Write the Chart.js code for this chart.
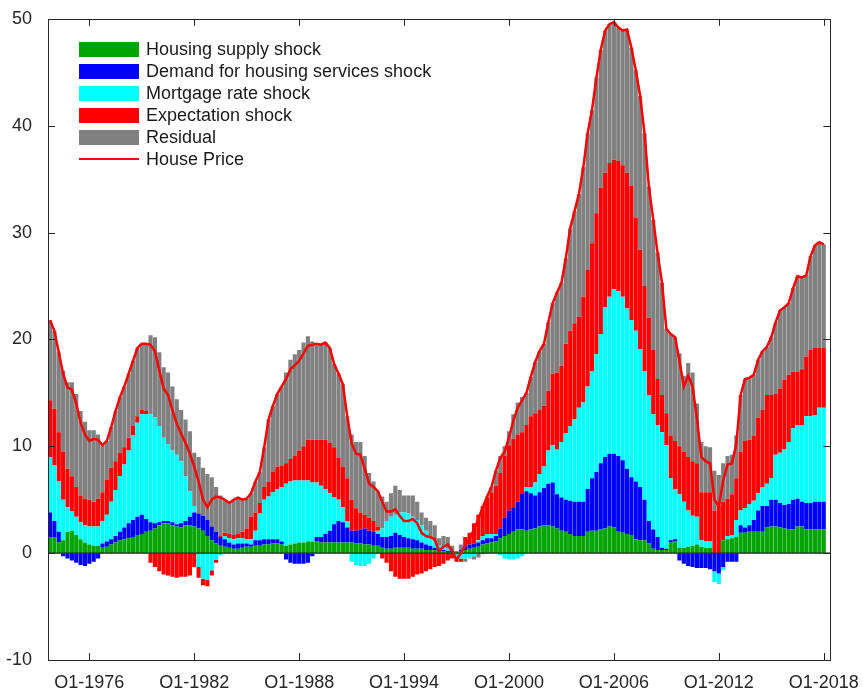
<!DOCTYPE html>
<html lang="en">
<head>
<meta charset="UTF-8">
<title>House price historical decomposition</title>
<script src="https://cdn.jsdelivr.net/npm/chart.js"></script>
<style>
  body { margin: 0; background: #fff; font-family: "Liberation Sans", Arial, Helvetica, sans-serif; }
  #wrap { position: relative; width: 863px; height: 688px; }
  #legend { position: absolute; left: 79px; top: 38px; }
  .row { height: 22px; line-height: 22px; font-size: 18px; color: #1a1a1a; white-space: nowrap; }
  .sw { display: inline-block; width: 60px; height: 15px; vertical-align: middle; margin-right: 7px; position: relative; top: -1px; }
  .ln { display: inline-block; width: 60px; height: 2px; vertical-align: middle; margin-right: 7px; position: relative; top: -1px; }
</style>
</head>
<body>
<div id="wrap">
  <canvas id="hpChart" width="863" height="688"></canvas>
  <div id="legend"></div>
</div>
<script>
// quarterly data, Q4-1973 .. Q1-2018
const firstYear = 1973;
const firstQuarter = 4;

const housePrice = [
  21.8, 20.8, 18.8, 16.8, 15.5, 15.3, 14.0, 12.2, 11.1, 10.5,
  10.7, 10.6, 10.1, 10.5, 11.8, 13.3, 14.6, 15.6, 16.8, 18.0,
  19.2, 19.6, 19.6, 19.5, 18.9, 17.1, 15.4, 14.8, 13.4, 12.1,
  11.2, 10.3, 9.3, 8.1, 6.7, 5.0, 4.3, 5.0, 5.3, 5.2,
  5.0, 4.7, 5.0, 5.2, 5.0, 5.1, 5.6, 6.7, 7.6, 9.9,
  12.5, 13.8, 14.9, 15.6, 16.3, 17.2, 17.6, 18.0, 18.7, 19.4,
  19.5, 19.6, 19.5, 19.7, 19.2, 17.7, 16.8, 15.8, 12.8, 10.3,
  9.3, 9.2, 7.9, 6.5, 6.2, 5.8, 4.8, 3.9, 3.9, 4.1,
  3.5, 3.0, 3.0, 3.2, 2.8, 1.9, 1.6, 1.5, 1.3, 0.2,
  0.6, 0.8, 0.2, -0.6, 0.0, 0.7, 1.4, 2.2, 3.2, 4.3,
  5.3, 6.2, 7.7, 8.9, 9.5, 10.8, 12.4, 13.6, 14.3, 15.0,
  16.5, 17.9, 18.9, 19.6, 21.6, 23.4, 24.4, 25.3, 27.6, 30.4,
  32.0, 33.6, 36.1, 39.3, 41.5, 44.5, 47.1, 48.9, 49.5, 49.7,
  49.2, 48.9, 49.0, 47.3, 45.2, 42.8, 39.3, 34.3, 31.2, 28.1,
  25.3, 21.0, 20.5, 20.2, 18.0, 15.6, 16.6, 15.6, 12.6, 9.0,
  8.6, 8.4, 5.0, 4.4, 6.8, 8.3, 8.4, 10.2, 14.8, 16.3,
  16.4, 16.7, 18.1, 18.9, 19.3, 20.2, 21.6, 22.7, 23.0, 23.4,
  24.8, 25.9, 25.8, 26.0, 27.8, 28.8, 29.1, 28.9
];

const supplyShock = [
  1.5, 1.5, 1.0, 1.2, 2.0, 2.1, 1.7, 1.3, 1.0, 0.8,
  0.7, 0.7, 0.5, 0.6, 0.8, 1.0, 1.2, 1.3, 1.4, 1.5,
  1.7, 1.8, 2.0, 2.1, 2.3, 2.6, 2.8, 2.8, 2.6, 2.5,
  2.4, 2.6, 2.6, 2.5, 2.3, 2.1, 1.6, 1.2, 0.9, 0.7,
  0.6, 0.5, 0.4, 0.4, 0.5, 0.6, 0.6, 0.7, 0.7, 0.8,
  0.8, 0.9, 0.9, 0.8, 0.7, 0.8, 0.9, 1.0, 1.0, 1.1,
  1.1, 1.1, 1.0, 1.0, 1.0, 1.0, 1.0, 1.0, 1.0, 1.0,
  0.9, 0.9, 0.8, 0.8, 0.7, 0.7, 0.5, 0.4, 0.4, 0.5,
  0.5, 0.5, 0.5, 0.4, 0.4, 0.4, 0.3, 0.3, 0.3, 0.2,
  0.2, 0.1, 0.1, 0.1, 0.2, 0.3, 0.4, 0.5, 0.6, 0.8,
  0.9, 1.0, 1.1, 1.4, 1.6, 1.8, 2.0, 2.2, 2.2, 2.1,
  2.2, 2.3, 2.5, 2.6, 2.6, 2.5, 2.3, 2.1, 2.0, 1.8,
  1.6, 1.6, 1.6, 2.0, 2.1, 2.1, 2.2, 2.3, 2.5, 2.4,
  2.0, 1.9, 1.8, 1.7, 1.3, 1.2, 1.2, 0.9, 0.4, 0.3,
  0.3, 0.3, 1.0, 1.1, 0.5, 0.5, 0.6, 0.7, 0.8, 0.6,
  0.5, 0.5, 0.0, 0.0, 1.2, 1.3, 1.4, 1.5, 1.9, 1.9,
  2.0, 2.0, 2.0, 2.0, 2.4, 2.5, 2.5, 2.4, 2.3, 2.2,
  2.2, 2.5, 2.5, 2.2, 2.2, 2.2, 2.2, 2.2
];

const demandShock = [
  2.3, 1.5, 1.0, -0.3, -0.5, -0.7, -0.9, -1.1, -1.2, -1.0,
  -0.8, -0.5, 0.4, 0.5, 0.5, 0.6, 0.8, 1.1, 1.4, 1.6,
  1.7, 1.8, 1.2, 0.8, 0.5, 0.3, 0.2, 0.2, 0.3, 0.2,
  0.4, 0.4, 0.8, 1.3, 1.4, 1.4, 1.5, 1.3, 1.1, 0.8,
  0.7, 0.5, 0.4, 0.5, 0.4, 0.3, 0.2, 0.5, 0.5, 0.5,
  0.5, 0.4, 0.4, 0.3, -0.6, -0.9, -1.0, -1.0, -1.0, -0.9,
  -0.3, 0.4, 0.5, 0.8, 1.1, 1.7, 2.0, 1.9, 1.4, 1.1,
  1.2, 1.3, 1.5, 1.3, 1.3, 1.1, 1.0, 1.1, 1.2, 1.4,
  1.2, 1.0, 0.9, 0.9, 0.8, 0.6, 0.5, 0.4, 0.2, 0.2,
  0.1, 0.1, 0.1, 0.0, 0.1, 0.4, 0.4, 0.4, 0.4, 0.4,
  0.5, 0.4, 0.5, 0.9, 1.7, 2.2, 2.3, 2.6, 3.4, 3.7,
  3.4, 3.1, 3.2, 3.5, 3.9, 4.1, 3.2, 3.1, 3.0, 3.1,
  3.2, 3.2, 3.2, 4.0, 4.9, 5.5, 6.2, 6.7, 6.8, 6.9,
  7.1, 6.8, 6.1, 5.4, 5.4, 5.0, 3.8, 2.1, 1.8, 1.2,
  0.2, 0.1, 0.2, 0.2, -0.7, -1.0, -1.2, -1.3, -1.4, -1.4,
  -1.4, -1.5, -1.7, -1.9, -1.3, -0.8, -0.8, -0.8, 0.7, 0.5,
  0.6, 1.1, 2.0, 2.4, 2.0, 2.5, 2.5, 2.3, 2.2, 2.4,
  2.8, 2.6, 2.3, 2.5, 2.5, 2.6, 2.6, 2.6
];

const mortgageShock = [
  5.2, 5.2, 4.7, 3.8, 2.3, 1.8, 1.7, 1.6, 1.6, 1.7,
  1.8, 1.8, 2.1, 2.5, 3.5, 4.3, 5.2, 5.9, 6.8, 7.9,
  8.8, 9.4, 9.8, 10.1, 9.9, 9.0, 7.8, 7.2, 6.7, 6.5,
  5.8, 4.2, 2.4, 0.6, -1.3, -2.4, -2.5, -1.6, -0.6, -0.2,
  0.3, 0.4, 0.5, 0.5, 0.5, 0.4, 0.5, 0.9, 2.5, 3.7,
  4.0, 4.4, 4.7, 5.1, 5.8, 5.9, 5.9, 5.8, 5.8, 5.7,
  5.5, 5.1, 4.8, 4.2, 3.5, 2.5, 2.0, 1.4, 0.6, -0.8,
  -1.1, -1.2, -1.2, -1.0, -0.5, 0.3, 0.8, 1.5, 1.8, 1.7,
  2.1, 2.3, 2.3, 2.1, 1.9, 1.6, 1.3, 0.8, 0.6, 0.3,
  0.2, 0.2, 0.0, -0.4, -0.5, -0.5, -0.4, -0.3, 0.2, 0.4,
  0.4, 0.4, 0.2, -0.2, -0.5, -0.6, -0.6, -0.5, -0.3, 0.4,
  0.6, 1.2, 1.7, 2.0, 3.1, 3.5, 4.2, 5.2, 6.2, 7.0,
  7.7, 8.8, 9.3, 9.6, 10.0, 11.0, 12.1, 14.0, 14.7, 15.4,
  15.4, 15.3, 15.0, 14.7, 14.1, 12.9, 12.0, 11.8, 10.8, 10.5,
  10.8, 9.7, 5.8, 4.7, 5.0, 4.3, 3.4, 2.8, 2.6, 0.6,
  0.6, 0.6, -1.0, -1.0, -0.3, 0.3, 0.3, 1.6, 1.4, 1.8,
  2.0, 1.8, 1.6, 1.8, 2.1, 2.0, 4.2, 4.7, 5.2, 5.8,
  6.7, 6.9, 7.2, 8.1, 8.1, 8.1, 8.8, 8.8
];

const expectationShock = [
  5.3, 5.3, 4.6, 4.5, 3.6, 3.3, 2.8, 2.5, 2.5, 2.5,
  2.3, 2.6, 2.7, 3.3, 3.2, 2.7, 2.2, 1.6, 1.2, 0.9,
  0.6, 0.4, 0.3, -0.9, -1.3, -1.7, -2.0, -2.1, -2.2, -2.3,
  -2.2, -2.2, -2.1, -1.3, -1.0, -0.6, -0.6, -0.5, -0.3, 0.1,
  0.3, 0.4, 0.4, 0.4, 0.6, 1.0, 2.1, 1.7, 1.0, 1.2,
  1.4, 1.9, 2.1, 2.0, 1.9, 2.1, 2.3, 2.8, 3.2, 3.8,
  4.0, 4.0, 4.3, 4.6, 4.7, 4.7, 3.9, 3.8, 4.0, 2.9,
  2.1, 1.6, 1.3, 1.2, 1.0, 0.4, -0.5, -0.9, -1.7, -2.2,
  -2.4, -2.4, -2.4, -2.2, -2.0, -1.9, -1.7, -1.5, -1.3, -1.2,
  -1.0, -0.7, -0.5, -0.4, -0.3, 0.8, 1.1, 1.9, 2.4, 2.8,
  3.4, 3.9, 4.5, 5.2, 5.8, 6.1, 6.4, 6.3, 5.7, 5.8,
  6.6, 6.5, 6.0, 5.7, 5.6, 6.7, 7.2, 7.1, 8.4, 8.9,
  9.0, 8.5, 9.9, 10.9, 12.0, 13.2, 13.7, 12.6, 12.5, 12.1,
  12.2, 12.3, 12.7, 12.6, 10.6, 9.3, 8.0, 7.2, 6.0, 4.3,
  3.5, 3.0, 4.0, 4.5, 4.5, 4.7, 5.0, 5.1, 5.0, 4.5,
  4.6, 4.6, 4.0, 4.4, 3.6, 3.5, 3.8, 3.9, 5.5, 6.3,
  6.0, 6.1, 7.1, 7.2, 8.3, 7.8, 5.7, 6.0, 6.5, 6.3,
  5.3, 5.0, 5.2, 5.6, 6.2, 6.3, 5.6, 5.6
];

const residual = [
  7.5, 7.3, 7.5, 7.6, 8.1, 8.8, 8.7, 7.9, 7.2, 6.5,
  6.7, 6.0, 4.4, 3.6, 3.8, 4.7, 5.2, 5.7, 6.0, 6.1,
  6.4, 6.2, 6.3, 7.4, 7.5, 6.9, 6.6, 6.7, 6.0, 5.2,
  4.8, 5.3, 5.6, 5.0, 5.3, 4.5, 4.3, 4.6, 4.2, 3.8,
  3.1, 2.9, 3.3, 3.4, 3.0, 2.8, 2.2, 2.9, 2.9, 3.7,
  5.8, 6.2, 6.8, 7.4, 8.5, 9.3, 9.5, 9.4, 9.7, 9.7,
  9.2, 9.0, 8.9, 9.1, 8.9, 7.8, 7.9, 7.7, 5.8, 6.1,
  6.2, 6.6, 5.5, 4.2, 3.7, 3.3, 3.0, 1.8, 2.2, 2.7,
  2.1, 1.6, 1.7, 2.0, 1.7, 1.2, 1.2, 1.5, 1.5, 0.7,
  1.1, 1.1, 0.5, 0.1, 0.5, -0.3, -0.1, -0.3, -0.4, -0.1,
  0.1, 0.5, 1.4, 1.6, 0.9, 1.3, 2.3, 3.0, 3.3, 3.0,
  3.7, 4.8, 5.5, 5.8, 6.4, 6.6, 7.5, 7.8, 8.0, 9.6,
  10.5, 11.5, 12.1, 12.8, 12.5, 12.7, 12.9, 13.3, 13.0, 12.9,
  12.5, 12.6, 13.4, 12.9, 13.8, 14.4, 14.3, 12.3, 12.2, 11.8,
  10.5, 7.9, 9.5, 9.7, 8.7, 7.1, 8.8, 8.3, 5.6, 4.7,
  4.3, 4.2, 3.7, 2.9, 3.6, 4.0, 3.7, 4.0, 5.3, 5.8,
  5.8, 5.7, 5.4, 5.5, 4.5, 5.4, 6.7, 7.3, 6.8, 6.7,
  7.8, 8.9, 8.6, 7.6, 8.8, 9.6, 9.9, 9.7
];

const tickYears = [1976, 1982, 1988, 1994, 2000, 2006, 2012, 2018];

const seriesNames = ['Housing supply shock', 'Demand for housing services shock',
  'Mortgage rate shock', 'Expectation shock', 'Residual', 'House Price'];
const seriesColors = ['#00a500', '#0000ff', '#00ffff', '#ff0000', '#808080', '#ff0000'];
const seriesData = [supplyShock, demandShock, mortgageShock, expectationShock, residual];

// time position of each quarter (years)
const t0 = firstYear + (firstQuarter - 1) / 4;
const toPoints = arr => arr.map((v, i) => ({ x: t0 + i / 4, y: v }));

Chart.defaults.font.family = '"Liberation Sans", Arial, Helvetica, sans-serif';
Chart.defaults.font.size = 18;
Chart.defaults.color = '#262626';

const datasets = seriesData.map((arr, k) => ({
  type: 'bar',
  label: seriesNames[k],
  data: toPoints(arr),
  backgroundColor: seriesColors[k],
  borderWidth: 0,
  inflateAmount: 0,
  stack: 'shocks',
  order: 1,
  barPercentage: 0.95,
  categoryPercentage: 1
}));
datasets.push({
  type: 'line',
  label: seriesNames[5],
  data: toPoints(housePrice),
  borderColor: seriesColors[5],
  borderWidth: 2.5,
  pointRadius: 0,
  tension: 0,
  fill: false,
  stack: 'price',
  order: 0
});

// axes box, inward ticks, zero line
const frame = {
  id: 'frame',
  afterDatasetDraw(chart, args) {
    if (args.index !== 0) return;
    const { ctx, chartArea: a, scales: { y } } = chart;
    const y0 = y.getPixelForValue(0);
    ctx.save();
    ctx.strokeStyle = '#262626';
    ctx.lineWidth = 1.3;
    ctx.beginPath();
    ctx.moveTo(a.left, y0);
    ctx.lineTo(a.right, y0);
    ctx.stroke();
    ctx.restore();
  },
  afterDraw(chart) {
    const { ctx, chartArea: a, scales: { x, y } } = chart;
    ctx.save();
    ctx.strokeStyle = '#262626';
    ctx.lineWidth = 1;
    ctx.strokeRect(Math.round(a.left) + 0.5, Math.round(a.top) + 0.5,
      Math.round(a.right - a.left), Math.round(a.bottom - a.top));
    ctx.beginPath();
    y.ticks.forEach(t => {
      const p = Math.round(y.getPixelForValue(t.value)) + 0.5;
      ctx.moveTo(a.left, p); ctx.lineTo(a.left + 7, p);
      ctx.moveTo(a.right, p); ctx.lineTo(a.right - 7, p);
    });
    x.ticks.forEach(t => {
      const p = Math.round(x.getPixelForValue(t.value)) + 0.5;
      ctx.moveTo(p, a.bottom); ctx.lineTo(p, a.bottom - 7);
      ctx.moveTo(p, a.top); ctx.lineTo(p, a.top + 7);
    });
    ctx.stroke();
    ctx.restore();
  }
};

new Chart(document.getElementById('hpChart'), {
  data: { datasets },
  options: {
    responsive: false,
    animation: false,
    layout: { padding: { top: 18, right: 31, left: 0, bottom: 0 } },
    plugins: { legend: { display: false }, tooltip: { enabled: false } },
    scales: {
      x: {
        type: 'linear',
        min: t0 - 0.115,
        max: 2018.377,
        offset: false,
        grid: { display: false },
        border: { display: false },
        afterFit: s => { s.height = 28; },
        afterBuildTicks: s => { s.ticks = tickYears.map(v => ({ value: v })); },
        ticks: {
          autoSkip: false,
          maxRotation: 0,
          minRotation: 0,
          padding: 4,
          callback: v => 'Q1-' + v
        }
      },
      y: {
        stacked: true,
        min: -10,
        max: 50,
        grid: { display: false },
        border: { display: false },
        afterFit: s => { s.width = 48; },
        ticks: { stepSize: 10, padding: 8 }
      }
    }
  },
  plugins: [frame]
});

// legend in the upper-left corner of the axes
const legend = document.getElementById('legend');
seriesNames.forEach((name, k) => {
  const row = document.createElement('div');
  row.className = 'row';
  const mark = document.createElement('span');
  mark.className = k < 5 ? 'sw' : 'ln';
  mark.style.background = seriesColors[k];
  row.appendChild(mark);
  row.appendChild(document.createTextNode(name));
  legend.appendChild(row);
});
</script>
</body>
</html>
